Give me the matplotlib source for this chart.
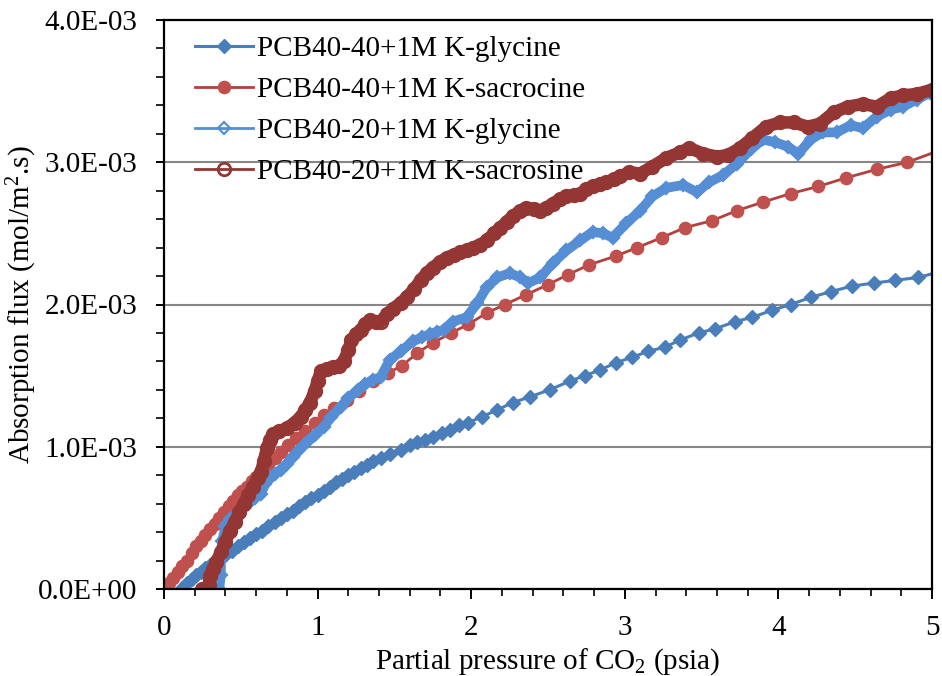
import matplotlib
matplotlib.use("Agg")
import matplotlib.pyplot as plt
from matplotlib.ticker import MultipleLocator, FuncFormatter

plt.rcParams['font.family'] = ['Liberation Serif', 'DejaVu Serif']
plt.rcParams['mathtext.fontset'] = 'custom'
plt.rcParams['mathtext.rm'] = 'Liberation Serif'
plt.rcParams['mathtext.it'] = 'Liberation Serif:italic'

labels = ["PCB40-40+1M K-glycine", "PCB40-40+1M K-sacrocine",
          "PCB40-20+1M K-glycine", "PCB40-20+1M K-sacrosine"]

# Series 1: PCB40-40 + K-glycine (flux in 1E-03 mol/m2.s)
x1 = [0.12, 0.15, 0.18, 0.21, 0.24, 0.27, 0.30, 0.33, 0.36, 0.40, 0.44, 0.48, 0.52, 0.56, 0.60,
      0.64, 0.68, 0.72, 0.76, 0.80, 0.84, 0.88, 0.92, 0.96, 1.00, 1.04, 1.08, 1.12, 1.16, 1.20,
      1.24, 1.28, 1.32, 1.36, 1.41, 1.47, 1.54, 1.60, 1.65, 1.70, 1.75, 1.81, 1.86, 1.92, 1.98,
      2.07, 2.17, 2.27, 2.38, 2.51, 2.64, 2.74, 2.84, 2.94, 3.05, 3.15, 3.26, 3.36, 3.48, 3.59,
      3.72, 3.83, 3.96, 4.08, 4.21, 4.34, 4.48, 4.62, 4.76, 4.91, 5.05]
y1 = [0.01, 0.04, 0.07, 0.10, 0.12, 0.15, 0.17, 0.19, 0.21, 0.24, 0.27, 0.30, 0.33, 0.36, 0.39,
      0.41, 0.44, 0.47, 0.50, 0.53, 0.55, 0.58, 0.61, 0.64, 0.66, 0.69, 0.72, 0.75, 0.77, 0.80,
      0.82, 0.85, 0.87, 0.90, 0.92, 0.95, 0.98, 1.01, 1.03, 1.05, 1.07, 1.10, 1.12, 1.15, 1.17,
      1.21, 1.26, 1.31, 1.35, 1.40, 1.46, 1.50, 1.54, 1.59, 1.63, 1.67, 1.70, 1.75, 1.80, 1.83,
      1.88, 1.91, 1.96, 2.00, 2.05, 2.09, 2.13, 2.15, 2.17, 2.19, 2.23]

# Series 2: PCB40-40 + K-sarcosine
x2 = [0.00, 0.03, 0.06, 0.09, 0.12, 0.15, 0.18, 0.21, 0.24, 0.27, 0.30, 0.33, 0.36, 0.39, 0.42,
      0.45, 0.48, 0.51, 0.54, 0.57, 0.60, 0.64, 0.68, 0.72, 0.76, 0.81, 0.86, 0.92, 0.98, 1.04,
      1.11, 1.19, 1.27, 1.36, 1.46, 1.55, 1.65, 1.75, 1.87, 1.98, 2.10, 2.22, 2.36, 2.50, 2.63,
      2.77, 2.94, 3.08, 3.24, 3.39, 3.57, 3.73, 3.90, 4.08, 4.26, 4.44, 4.64, 4.84, 5.04]
y2 = [0.00, 0.04, 0.08, 0.12, 0.16, 0.20, 0.25, 0.30, 0.34, 0.38, 0.42, 0.46, 0.50, 0.54, 0.58,
      0.62, 0.66, 0.69, 0.72, 0.76, 0.79, 0.84, 0.88, 0.92, 0.96, 1.01, 1.06, 1.11, 1.17, 1.22,
      1.27, 1.33, 1.39, 1.46, 1.52, 1.57, 1.66, 1.73, 1.80, 1.86, 1.94, 2.00, 2.07, 2.14, 2.21,
      2.28, 2.34, 2.40, 2.47, 2.54, 2.59, 2.66, 2.72, 2.78, 2.83, 2.89, 2.95, 3.00, 3.08]

# Series 3: PCB40-20 + K-glycine
x3 = [0.36, 0.37, 0.37, 0.38, 0.40, 0.43, 0.47, 0.51, 0.55, 0.59, 0.63, 0.66, 0.69, 0.72, 0.76,
      0.80, 0.84, 0.88, 0.93, 0.98, 1.04, 1.09, 1.15, 1.20, 1.26, 1.31, 1.36, 1.41, 1.47, 1.54,
      1.62, 1.68, 1.73, 1.78, 1.82, 1.88, 1.97, 2.04, 2.10, 2.17, 2.25, 2.32, 2.37, 2.45, 2.53,
      2.62, 2.71, 2.79, 2.86, 2.92, 3.01, 3.10, 3.18, 3.27, 3.38, 3.47, 3.55, 3.64, 3.73, 3.82,
      3.90, 3.98, 4.06, 4.13, 4.21, 4.29, 4.38, 4.47, 4.55, 4.64, 4.73, 4.81, 4.90, 4.99]
y3 = [0.00, 0.10, 0.22, 0.34, 0.44, 0.49, 0.53, 0.57, 0.60, 0.64, 0.67, 0.74, 0.78, 0.81, 0.84,
      0.88, 0.93, 0.98, 1.03, 1.08, 1.14, 1.21, 1.28, 1.34, 1.40, 1.44, 1.47, 1.49, 1.61, 1.67,
      1.74, 1.77, 1.79, 1.81, 1.82, 1.88, 1.91, 2.01, 2.12, 2.19, 2.22, 2.19, 2.15, 2.19, 2.29,
      2.38, 2.45, 2.51, 2.50, 2.47, 2.57, 2.66, 2.76, 2.82, 2.84, 2.79, 2.86, 2.91, 2.99, 3.09,
      3.16, 3.14, 3.11, 3.06, 3.16, 3.21, 3.21, 3.26, 3.24, 3.32, 3.37, 3.39, 3.44, 3.49]

# Series 4: PCB40-20 + K-sarcosine
x4 = [0.25, 0.27, 0.29, 0.30, 0.32, 0.34, 0.37, 0.40, 0.43, 0.46, 0.49, 0.52, 0.55, 0.58, 0.61,
      0.63, 0.65, 0.67, 0.69, 0.71, 0.75, 0.80, 0.85, 0.89, 0.92, 0.95, 0.98, 1.00, 1.02, 1.06,
      1.10, 1.14, 1.17, 1.20, 1.22, 1.25, 1.28, 1.31, 1.34, 1.38, 1.41, 1.45, 1.49, 1.54, 1.58,
      1.63, 1.67, 1.71, 1.75, 1.80, 1.84, 1.89, 1.93, 1.97, 2.01, 2.06, 2.10, 2.15, 2.19, 2.23,
      2.27, 2.32, 2.36, 2.41, 2.45, 2.49, 2.53, 2.58, 2.62, 2.67, 2.71, 2.75, 2.79, 2.84, 2.88,
      2.93, 2.97, 3.03, 3.10, 3.18, 3.27, 3.36, 3.42, 3.51, 3.60, 3.67, 3.75, 3.83, 3.92, 4.01,
      4.10, 4.19, 4.27, 4.36, 4.45, 4.55, 4.64, 4.73, 4.81, 4.90, 5.00]
y4 = [0.00, 0.00, 0.03, 0.09, 0.14, 0.19, 0.26, 0.33, 0.41, 0.47, 0.54, 0.60, 0.66, 0.72, 0.78,
      0.82, 0.90, 0.99, 1.05, 1.09, 1.11, 1.13, 1.17, 1.21, 1.26, 1.31, 1.39, 1.46, 1.53, 1.55,
      1.56, 1.57, 1.60, 1.68, 1.75, 1.79, 1.82, 1.86, 1.89, 1.88, 1.88, 1.93, 1.97, 2.01, 2.05,
      2.11, 2.17, 2.22, 2.26, 2.30, 2.33, 2.35, 2.37, 2.38, 2.40, 2.42, 2.45, 2.50, 2.54, 2.58,
      2.62, 2.66, 2.68, 2.67, 2.66, 2.68, 2.71, 2.74, 2.76, 2.77, 2.78, 2.81, 2.83, 2.85, 2.86,
      2.88, 2.90, 2.93, 2.92, 2.97, 3.03, 3.07, 3.10, 3.06, 3.04, 3.05, 3.10, 3.17, 3.25, 3.28,
      3.28, 3.25, 3.27, 3.35, 3.39, 3.41, 3.39, 3.45, 3.47, 3.48, 3.51]

x_ticks = [0, 1, 2, 3, 4, 5]
y_ticks = [0.0, 1.0e-3, 2.0e-3, 3.0e-3, 4.0e-3]

def sc(v):
    return [a * 1e-3 for a in v]

fig = plt.figure(figsize=(9.42, 6.76), dpi=100)
ax = fig.add_axes([164/942, 1 - 589/676, (932-164)/942, (589-20)/676])

c1 = '#4A7EBB'
c2 = '#C0504D'
c2l = '#B4403C'
c3 = '#558ED5'
c4 = '#943634'

ax.plot(x1, sc(y1), color=c1, lw=2.2, marker='D', ms=6.8, mfc=c1, mec=c1,
        label=labels[0], zorder=3)
ax.plot(x2, sc(y2), color=c2l, lw=2.0, marker='o', ms=8.8, mfc=c2, mec=c2,
        label=labels[1], zorder=4)
# dense series drawn as thick bands of overlapping markers
ax.plot(x3, sc(y3), color=c3, lw=7.0, solid_capstyle='round', solid_joinstyle='round', zorder=5)
ax.plot(x3, sc(y3), color=c3, lw=2.0, marker='D', ms=6.0, mfc='none', mec=c3, mew=1.6,
        label=labels[2], zorder=5)
ax.plot(x4, sc(y4), color=c4, lw=9.0, solid_capstyle='round', solid_joinstyle='round', zorder=6)
ax.plot(x4, sc(y4), color=c4, lw=2.0, marker='o', ms=9.0, mfc='none', mec=c4, mew=2.0,
        label=labels[3], zorder=6)

ax.set_xlim(0, 5)
ax.set_ylim(0, 4.0e-3)
ax.set_xticks(x_ticks)
ax.set_yticks(y_ticks)
ax.xaxis.set_minor_locator(MultipleLocator(0.2))
ax.yaxis.set_minor_locator(MultipleLocator(0.2e-3))
ax.yaxis.set_major_formatter(FuncFormatter(lambda v, p: '{:.1E}'.format(v)))
ax.xaxis.set_major_formatter(FuncFormatter(lambda v, p: '{:d}'.format(int(round(v)))))

ax.grid(axis='y', which='major', color='#868686', lw=1.5, zorder=1)
ax.set_axisbelow(True)
for s in ax.spines.values():
    s.set_linewidth(1.6)
    s.set_color('black')
    s.set_zorder(10)

ax.tick_params(axis='x', which='major', direction='out', length=7.5, width=1.4, pad=11, labelsize=21)
ax.tick_params(axis='x', which='minor', direction='out', length=5, width=1.2)
ax.tick_params(axis='y', which='major', direction='out', length=6, width=1.4, pad=13, labelsize=21)
ax.tick_params(axis='y', which='minor', direction='out', length=6, width=1.2)

ax.set_xlabel('Partial pressure of CO$_2$ (psia)', fontsize=21, labelpad=4)
ax.set_ylabel('Absorption flux (mol/m$^2$.s)', fontsize=21)
ax.yaxis.set_label_coords(-0.163, 0.5)

leg = ax.legend(loc='upper left', bbox_to_anchor=(0.04, 0.972), frameon=False, fontsize=21,
                numpoints=1, handlelength=2.0, handletextpad=0.15, labelspacing=0.5,
                borderpad=0, borderaxespad=0)
leg.set_zorder(20)

fig.savefig('out.png', dpi=100)
